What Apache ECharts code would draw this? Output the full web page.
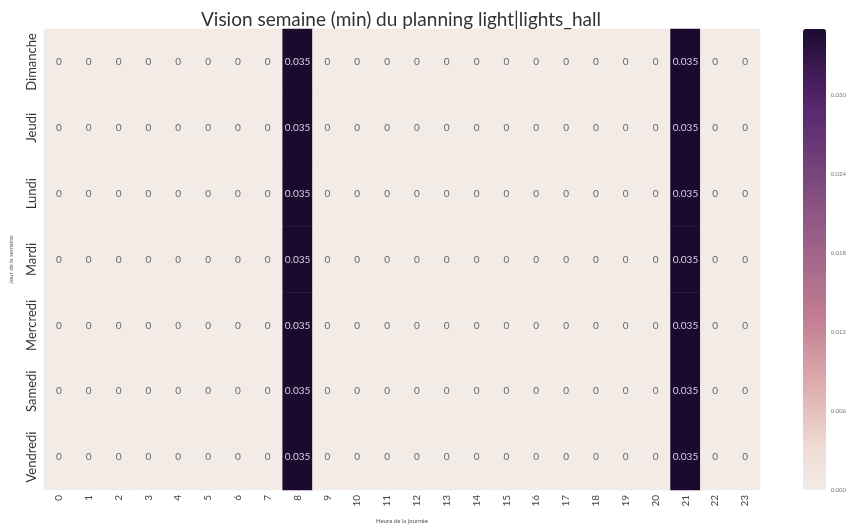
<!DOCTYPE html>
<html><head><meta charset="utf-8">
<script src="https://cdn.jsdelivr.net/npm/echarts@6/dist/echarts.min.js"></script>
<style>html,body{margin:0;padding:0;background:#fff;}#c{width:849px;height:529px;}</style>
</head><body><div id="c"></div>
<script>
const hours = ['0','1','2','3','4','5','6','7','8','9','10','11','12','13','14','15','16','17','18','19','20','21','22','23'];
const days = ['Dimanche','Jeudi','Lundi','Mardi','Mercredi','Samedi','Vendredi'];
const rowDimanche = [0,0,0,0,0,0,0,0,0.035,0,0,0,0,0,0,0,0,0,0,0,0,0.035,0,0];
const rowJeudi    = [0,0,0,0,0,0,0,0,0.035,0,0,0,0,0,0,0,0,0,0,0,0,0.035,0,0];
const rowLundi    = [0,0,0,0,0,0,0,0,0.035,0,0,0,0,0,0,0,0,0,0,0,0,0.035,0,0];
const rowMardi    = [0,0,0,0,0,0,0,0,0.035,0,0,0,0,0,0,0,0,0,0,0,0,0.035,0,0];
const rowMercredi = [0,0,0,0,0,0,0,0,0.035,0,0,0,0,0,0,0,0,0,0,0,0,0.035,0,0];
const rowSamedi   = [0,0,0,0,0,0,0,0,0.035,0,0,0,0,0,0,0,0,0,0,0,0,0.035,0,0];
const rowVendredi = [0,0,0,0,0,0,0,0,0.035,0,0,0,0,0,0,0,0,0,0,0,0,0.035,0,0];
const rows = [rowDimanche,rowJeudi,rowLundi,rowMardi,rowMercredi,rowSamedi,rowVendredi];
const colorbarTicks = [0,0.006,0.012,0.018,0.024,0.030];
const vMin = 0, vMax = 0.035;

const data = [];
rows.forEach((r, yi) => r.forEach((v, xi) => data.push([xi, yi, v])));

const font = 'Lato, "Open Sans", sans-serif';
const chart = echarts.init(document.getElementById('c'));
chart.setOption({
  backgroundColor: '#fff',
  animation: false,
  title: {
    text: 'Vision semaine (min) du planning light|lights_hall',
    left: 396, top: 5, textAlign: 'center',
    textStyle: {fontFamily: font, fontSize: 19, fontWeight: 'normal', color: '#333'}
  },
  grid: [
    {left: 43, top: 29, width: 717, height: 462},
    {left: 803, top: 29, width: 23, height: 461}
  ],
  xAxis: [
    {type: 'category', data: hours, gridIndex: 0,
     name: 'Heure de la journée', nameLocation: 'middle', nameGap: 28,
     nameTextStyle: {fontFamily: font, fontSize: 6, color: '#555'},
     axisLine: {show: false}, axisTick: {show: false}, splitLine: {show: false},
     axisLabel: {interval: 0, rotate: 90, fontFamily: font, fontSize: 10, color: '#444', margin: 5}},
    {type: 'value', gridIndex: 1, show: false, min: 0, max: 1}
  ],
  yAxis: [
    {type: 'category', data: days, inverse: true, gridIndex: 0,
     name: 'Jour de la semaine', nameLocation: 'middle', nameGap: 30,
     nameTextStyle: {fontFamily: font, fontSize: 6, color: '#555'},
     axisLine: {show: false}, axisTick: {show: false}, splitLine: {show: false},
     axisLabel: {interval: 0, rotate: 90, fontFamily: font, fontSize: 13, color: '#333', margin: 6}},
    {type: 'value', gridIndex: 1, min: vMin, max: vMax, interval: 0.006, position: 'right',
     axisLine: {show: false}, axisTick: {show: false}, splitLine: {show: false},
     axisLabel: {showMaxLabel: false, fontFamily: font, fontSize: 6, color: '#777', margin: 7,
                 formatter: v => colorbarTicks.some(t => Math.abs(t - v) < 1e-9) ? v.toFixed(3) : ''}}
  ],
  visualMap: {
    type: 'continuous', min: vMin, max: vMax, seriesIndex: 0,
    left: 803, top: 29, itemWidth: 23, itemHeight: 461, padding: 0,
    text: ['', ''], showLabel: false, calculable: false, realtime: false,
    inRange: {color: ['#f3ebe6','#efdcd6','#e3bcbb','#d79ea5','#c48094','#b06f8c','#9a5f88','#85507f','#6e3c78','#5a2a70','#3f1a55','#1a0b2e']}
  },
  series: [{
    type: 'heatmap', xAxisIndex: 0, yAxisIndex: 0, data: data,
    label: {
      show: true, fontFamily: font, fontSize: 10,
      formatter: p => p.value[2] === 0 ? '{z|0}' : '{h|' + p.value[2].toFixed(3) + '}',
      rich: {
        z: {color: '#666', fontFamily: font, fontSize: 10},
        h: {color: '#d8d0e8', fontFamily: font, fontSize: 10}
      }
    },
    itemStyle: {borderWidth: 0}
  }]
});
</script></body></html>
